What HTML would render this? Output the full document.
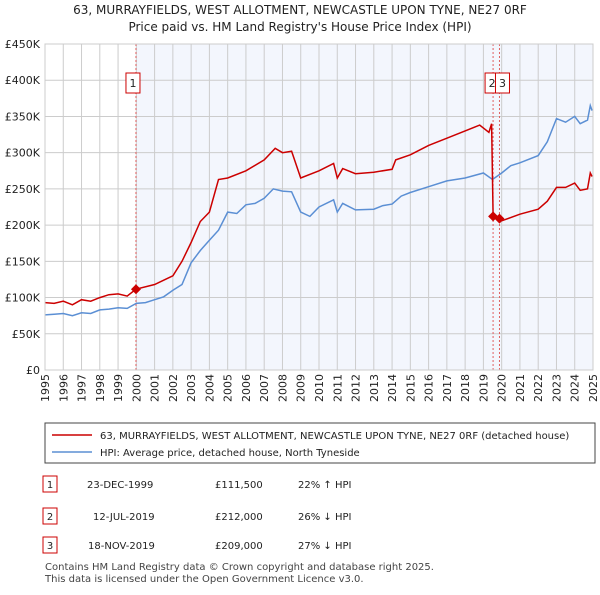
<!DOCTYPE html>
<html><head><meta charset="utf-8"><style>
body{margin:0;background:#fff;font-family:"Liberation Sans","DejaVu Sans",sans-serif;}
svg text{font-family:"DejaVu Sans","Liberation Sans",sans-serif;}
</style></head><body>
<svg id="c" width="600" height="590">
<text x="300" y="14" text-anchor="middle" font-size="12" fill="#222">63, MURRAYFIELDS, WEST ALLOTMENT, NEWCASTLE UPON TYNE, NE27 0RF</text>
<text x="300" y="31" text-anchor="middle" font-size="12" fill="#222">Price paid vs. HM Land Registry's House Price Index (HPI)</text>
<g id="plot"></g>
<rect x="45" y="423" width="550" height="40" fill="#fff" stroke="#444"/>
<line x1="52" y1="435" x2="92" y2="435" stroke="#cc0000" stroke-width="1.5"/>
<text x="100" y="439" font-size="10" fill="#222">63, MURRAYFIELDS, WEST ALLOTMENT, NEWCASTLE UPON TYNE, NE27 0RF (detached house)</text>
<line x1="52" y1="452" x2="92" y2="452" stroke="#5b8fd4" stroke-width="1.5"/>
<text x="100" y="456" font-size="10" fill="#222">HPI: Average price, detached house, North Tyneside</text>
<g font-size="10" fill="#222">
<rect x="43" y="476" width="14" height="16" fill="#fff" stroke="#cc0000"/><text x="50" y="488" text-anchor="middle">1</text>
<text x="87" y="488">23-DEC-1999</text><text x="215" y="488">£111,500</text><text x="298" y="488">22% ↑ HPI</text>
<rect x="43" y="508" width="14" height="16" fill="#fff" stroke="#cc0000"/><text x="50" y="520" text-anchor="middle">2</text>
<text x="93" y="520">12-JUL-2019</text><text x="215" y="520">£212,000</text><text x="298" y="520">26% ↓ HPI</text>
<rect x="43" y="537" width="14" height="16" fill="#fff" stroke="#cc0000"/><text x="50" y="549" text-anchor="middle">3</text>
<text x="88" y="549">18-NOV-2019</text><text x="215" y="549">£209,000</text><text x="298" y="549">27% ↓ HPI</text>
<text x="45" y="570" font-size="10" fill="#444">Contains HM Land Registry data © Crown copyright and database right 2025.</text>
<text x="45" y="582" font-size="10" fill="#444">This data is licensed under the Open Government Licence v3.0.</text>
</g>
</svg>
<script>
const hpiYears=[1995,1995.5,1996,1996.5,1997,1997.5,1998,1998.5,1999,1999.5,2000,2000.5,2001,2001.5,2002,2002.5,2003,2003.5,2004,2004.5,2005,2005.5,2006,2006.5,2007,2007.5,2008,2008.5,2009,2009.5,2010,2010.8,2011,2011.3,2012,2013,2013.5,2014,2014.5,2015,2016,2017,2018,2019,2019.5,2020,2020.5,2021,2022,2022.5,2023,2023.5,2024,2024.3,2024.7,2024.85,2024.95];
const hpiValues=[76,77,78,75,79,78,83,84,86,85,92,93,97,101,110,118,148,165,179,193,218,216,228,230,237,250,247,246,218,212,225,235,218,230,221,222,227,229,240,245,253,261,265,272,263,272,282,286,296,315,347,342,350,340,345,365,358];
const redYears=[1995,1995.5,1996,1996.5,1997,1997.5,1998,1998.5,1999,1999.5,1999.98,2001,2001.5,2002,2002.5,2003,2003.5,2004,2004.5,2005,2006,2007,2007.6,2008,2008.5,2009,2010,2010.8,2011,2011.3,2012,2013,2014,2014.2,2015,2016,2017,2018,2018.8,2019.3,2019.45,2019.53,2019.88,2020,2021,2022,2022.5,2023,2023.5,2024,2024.3,2024.7,2024.85,2024.95];
const redValues=[93,92,95,90,97,95,100,104,105,102,111.5,118,124,130,150,176,205,218,263,265,275,290,306,300,302,265,275,285,265,278,271,273,277,290,297,310,320,330,338,328,340,212,209,206,215,222,233,252,252,258,248,250,272,267];
const yTicks=[0,50,100,150,200,250,300,350,400,450];
const yTickLabels=["£0","£50K","£100K","£150K","£200K","£250K","£300K","£350K","£400K","£450K"];
const xTicks=[1995,1996,1997,1998,1999,2000,2001,2002,2003,2004,2005,2006,2007,2008,2009,2010,2011,2012,2013,2014,2015,2016,2017,2018,2019,2020,2021,2022,2023,2024,2025];
const saleYears=[1999.98,2019.53,2019.88];
const saleValues=[111.5,212,209];
const saleLabels=["1","2","3"];
const NS="http://www.w3.org/2000/svg";
const X0=45,X1=593,Y0=370,Y1=44;
const sx=y=>X0+(y-1995)/30*(X1-X0);
const sy=v=>Y0-v/450*(Y0-Y1);
const g=document.getElementById('plot');
function mk(t,a){const e=document.createElementNS(NS,t);for(const k in a)e.setAttribute(k,a[k]);g.appendChild(e);return e;}
let r=mk('rect',{x:X0,y:Y1,width:X1-X0,height:Y0-Y1,fill:'#fff'});


let sh=mk('rect',{x:sx(saleYears[0]),y:Y1,width:X1-sx(saleYears[0]),height:Y0-Y1,fill:'#f3f6fd'});


yTicks.forEach((v,i)=>{
 let l=mk('line',{x1:X0,x2:X1,y1:sy(v),y2:sy(v),stroke:'#ccc'});
 
 
 let t=mk('text',{x:40,y:sy(v)+4,'text-anchor':'end','font-size':11,fill:'#222'});
 t.textContent=yTickLabels[i];
 
 
});
xTicks.forEach(y=>{
 let l=mk('line',{x1:sx(y),x2:sx(y),y1:Y1,y2:Y0,stroke:'#ccc'});
 
 
 let t=mk('text',{x:0,y:0,'text-anchor':'end','font-size':11,fill:'#222',transform:`translate(${sx(y)+4},374) rotate(-90)`});
 t.textContent=y;
 
 
});
saleYears.forEach((y,i)=>{
 let l=mk('line',{x1:sx(y),x2:sx(y),y1:Y1,y2:Y0,stroke:'#e06060','stroke-dasharray':'2,2'});
 
 
});
function path(xs,vs,col,name){
 let d=xs.map((x,i)=>(i?'L':'M')+sx(x).toFixed(1)+','+sy(vs[i]).toFixed(1)).join('');
 let p=mk('path',{d:d,fill:'none',stroke:col,'stroke-width':1.5});
 
 
}
path(hpiYears,hpiValues,'#5b8fd4','hpi-line');
path(redYears,redValues,'#cc0000','price-paid-line');
saleYears.forEach((y,i)=>{
 const cx=sx(y),cy=sy(saleValues[i]);
 let m=mk('path',{d:`M${cx},${cy-5}L${cx+5},${cy}L${cx},${cy+5}L${cx-5},${cy}Z`,fill:'#cc0000'});
 
 
});
[[0,sx(saleYears[0])-10],[1,sx(saleYears[1])-8],[2,sx(saleYears[2])-4]].forEach(([i,x])=>{
 let b=mk('rect',{x:x,y:73,width:14,height:20,fill:'#fff',stroke:'#cc0000'});
 
 
 let t=mk('text',{x:x+7,y:87,'text-anchor':'middle','font-size':11,fill:'#222'});
 t.textContent=saleLabels[i];
 
 
});
let fr=mk('rect',{x:X0,y:Y1,width:X1-X0,height:Y0-Y1,fill:'none',stroke:'#ccc'});


</script>
</body></html>
